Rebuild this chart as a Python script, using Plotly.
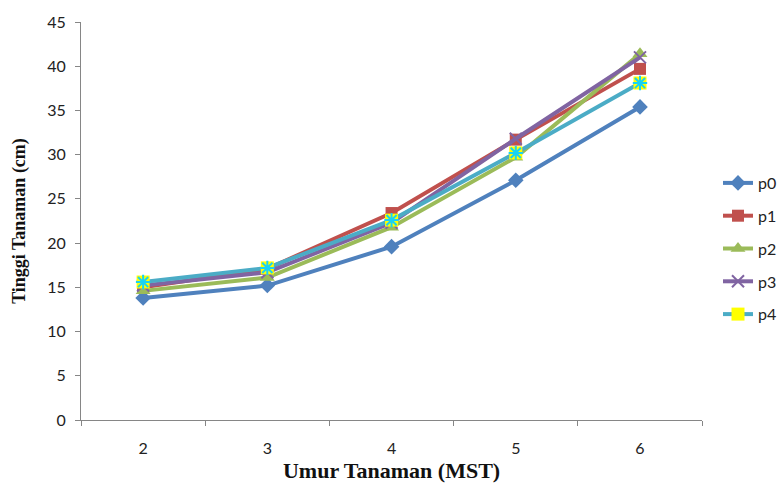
import plotly.graph_objects as go

weeks = ["2", "3", "4", "5", "6"]
p0 = [13.8, 15.2, 19.6, 27.1, 35.4]
p1 = [15.0, 17.1, 23.4, 31.7, 39.7]
p2 = [14.6, 16.1, 21.8, 29.7, 41.4]
p3 = [15.2, 16.7, 22.3, 31.8, 41.0]
p4 = [15.6, 17.2, 22.6, 30.2, 38.1]
y_ticks = [0, 5, 10, 15, 20, 25, 30, 35, 40, 45]

fig = go.Figure()
lw = 4
fig.add_trace(go.Scatter(x=weeks, y=p0, name="p0", mode="lines+markers", legendgroup="p0",
                         line=dict(color="#4F81BD", width=lw),
                         marker=dict(symbol="diamond", size=12, color="#4F81BD")))
fig.add_trace(go.Scatter(x=weeks, y=p1, name="p1", mode="lines+markers", legendgroup="p1",
                         line=dict(color="#C0504D", width=lw),
                         marker=dict(symbol="square", size=12, color="#C0504D")))
fig.add_trace(go.Scatter(x=weeks, y=p2, name="p2", mode="lines+markers", legendgroup="p2",
                         line=dict(color="#9BBB59", width=lw),
                         marker=dict(symbol="triangle-up", size=13, color="#9BBB59")))
fig.add_trace(go.Scatter(x=weeks, y=p3, name="p3", mode="lines+markers", legendgroup="p3",
                         line=dict(color="#8064A2", width=lw),
                         marker=dict(symbol="x-thin-open", size=12,
                                     line=dict(color="#8064A2", width=2))))
fig.add_trace(go.Scatter(x=weeks, y=p4, name="p4", mode="lines+markers", legendgroup="p4",
                         line=dict(color="#4BACC6", width=lw),
                         marker=dict(symbol="square", size=13, color="#FFFF00")))
fig.add_trace(go.Scatter(x=weeks, y=p4, name="p4", mode="markers", legendgroup="p4",
                         showlegend=False, hoverinfo="skip",
                         marker=dict(symbol="asterisk-open", size=12,
                                     line=dict(color="#4BACC6", width=2))))

axis_col = "#868686"
L, T, B = 81, 22, 63
paper_w = 782 - L
fig.update_layout(
    width=782, height=483,
    margin=dict(l=L, r=0, t=T, b=B),
    plot_bgcolor="white", paper_bgcolor="white",
    font=dict(family="Lato, Liberation Sans, sans-serif", size=15, color="#222"),
    legend=dict(x=(719 - L) / paper_w, y=1 - (166 - T) / (483 - T - B),
                xanchor="left", yanchor="top",
                font=dict(size=16), tracegroupgap=9, bgcolor="rgba(0,0,0,0)"),
    xaxis=dict(type="category", range=[-0.5, 4.5], showgrid=False,
               domain=[0, (703 - L) / paper_w], automargin=False,
               showline=True, linecolor=axis_col, linewidth=1,
               ticks="outside", tickson="boundaries", ticklen=5, tickcolor=axis_col,
               ticklabelstandoff=14, tickfont=dict(size=16),
               title=dict(text="Umur Tanaman (MST)", standoff=10,
                          font=dict(family="Liberation Serif, Times New Roman, serif",
                                    size=22, color="#111", weight="bold"))),
    yaxis=dict(range=[0, 45], tickvals=y_ticks, showgrid=False, automargin=False,
               showline=True, linecolor=axis_col, linewidth=1,
               ticks="outside", ticklen=5, tickcolor=axis_col, ticklabelstandoff=6,
               tickfont=dict(size=16),
               title=dict(text="Tinggi Tanaman (cm)", standoff=16,
                          font=dict(family="Liberation Serif, Times New Roman, serif",
                                    size=18, color="#111", weight="bold"))),
)

fig.write_html("out.html")
